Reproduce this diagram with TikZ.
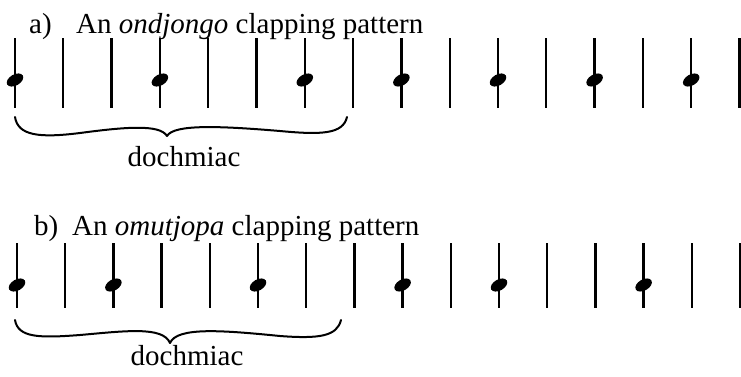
\documentclass[tikz,border=0pt]{standalone}
\usepackage{fontspec}
\setmainfont{Liberation Serif}
\begin{document}
\begin{tikzpicture}[x=1pt,y=-1pt,
  beat/.style={line width=2.3pt},
  head/.style={fill=black},
  bracket/.style={line width=2pt, line cap=round},
  title/.style={inner sep=0pt, anchor=base west, font=\fontsize{29}{33}\selectfont},
  label/.style={inner sep=0pt, anchor=base, font=\fontsize{29}{33}\selectfont}]
\useasboundingbox (0,0) rectangle (741,376);

% ---- a) ondjongo ----
\node[title] (ta) at (29,33) {a)};
\node[title] (tta) at (76,33) {An \textit{ondjongo} clapping pattern};
\foreach \i in {0,...,15}
  \draw[beat] ({15+48.3*\i},38) -- ({15+48.3*\i},108);
\foreach \i in {0,3,6,8,10,12,14}
  \fill[head] ({15+48.3*\i},80) ellipse [x radius=9pt, y radius=5.5pt, rotate=30];
\draw[bracket] (15,117) .. controls (18,136) and (40,138) .. (80,133)
  .. controls (125,127) and (160,124) .. (167,136);
\draw[bracket] (167,136) .. controls (174,124) and (220,126) .. (280,131)
  .. controls (322,135) and (343,134) .. (347,117);
\node[label] (da) at (184,166) {dochmiac};

% ---- b) omutjopa ----
\node[title] (tb) at (34,235) {b)};
\node[title] (ttb) at (72,235) {An \textit{omutjopa} clapping pattern};
\foreach \i in {0,...,15}
  \draw[beat] ({17+48.2*\i},243) -- ({17+48.2*\i},308);
\foreach \i in {0,2,5,8,10,13}
  \fill[head] ({17+48.2*\i},285) ellipse [x radius=9pt, y radius=5.5pt, rotate=30];
\draw[bracket] (15,320) .. controls (18,338) and (40,338) .. (80,335)
  .. controls (125,331) and (163,326) .. (170,343);
\draw[bracket] (170,343) .. controls (177,327) and (220,330) .. (280,336)
  .. controls (320,339) and (337,336) .. (341,320);
\node[label] (db) at (187,365) {dochmiac};
\end{tikzpicture}
\end{document}
